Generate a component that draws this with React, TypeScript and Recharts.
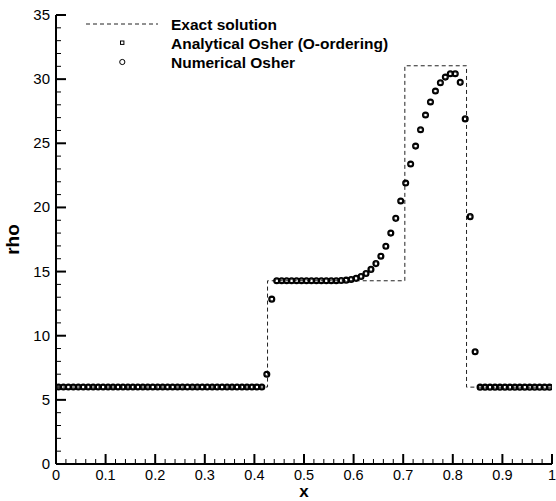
import React from 'react';
import { ComposedChart, Line, Scatter, XAxis, YAxis, Legend, Label } from 'recharts';

// cell centres
const xs = [
  0.005, 0.015, 0.025, 0.035, 0.045, 0.055, 0.065, 0.075, 0.085, 0.095,
  0.105, 0.115, 0.125, 0.135, 0.145, 0.155, 0.165, 0.175, 0.185, 0.195,
  0.205, 0.215, 0.225, 0.235, 0.245, 0.255, 0.265, 0.275, 0.285, 0.295,
  0.305, 0.315, 0.325, 0.335, 0.345, 0.355, 0.365, 0.375, 0.385, 0.395,
  0.405, 0.415, 0.425, 0.435, 0.445, 0.455, 0.465, 0.475, 0.485, 0.495,
  0.505, 0.515, 0.525, 0.535, 0.545, 0.555, 0.565, 0.575, 0.585, 0.595,
  0.605, 0.615, 0.625, 0.635, 0.645, 0.655, 0.665, 0.675, 0.685, 0.695,
  0.705, 0.715, 0.725, 0.735, 0.745, 0.755, 0.765, 0.775, 0.785, 0.795,
  0.805, 0.815, 0.825, 0.835, 0.845, 0.855, 0.865, 0.875, 0.885, 0.895,
  0.905, 0.915, 0.925, 0.935, 0.945, 0.955, 0.965, 0.975, 0.985, 0.995,
];

const rhoNumerical = [
  6.0, 6.0, 6.0, 6.0, 6.0, 6.0, 6.0, 6.0, 6.0, 6.0,
  6.0, 6.0, 6.0, 6.0, 6.0, 6.0, 6.0, 6.0, 6.0, 6.0,
  6.0, 6.0, 6.0, 6.0, 6.0, 6.0, 6.0, 6.0, 6.0, 6.0,
  6.0, 6.0, 6.0, 6.0, 6.0, 6.0, 6.0, 6.0, 6.0, 6.0,
  6.0, 6.0, 7.0, 12.85, 14.28, 14.28, 14.28, 14.28, 14.28, 14.28,
  14.28, 14.28, 14.28, 14.28, 14.28, 14.28, 14.28, 14.3, 14.33, 14.38,
  14.47, 14.62, 14.85, 15.17, 15.62, 16.2, 16.97, 18.0, 19.15, 20.5,
  21.9, 23.38, 24.78, 26.05, 27.2, 28.22, 29.07, 29.72, 30.16, 30.42,
  30.42, 29.75, 26.9, 19.28, 8.75, 5.99, 5.99, 5.99, 5.99, 5.99,
  5.99, 5.99, 5.99, 5.99, 5.99, 5.99, 5.99, 5.99, 5.99, 5.99,
];

const rhoAnalytical = [
  6.0, 6.0, 6.0, 6.0, 6.0, 6.0, 6.0, 6.0, 6.0, 6.0,
  6.0, 6.0, 6.0, 6.0, 6.0, 6.0, 6.0, 6.0, 6.0, 6.0,
  6.0, 6.0, 6.0, 6.0, 6.0, 6.0, 6.0, 6.0, 6.0, 6.0,
  6.0, 6.0, 6.0, 6.0, 6.0, 6.0, 6.0, 6.0, 6.0, 6.0,
  6.0, 6.0, 7.0, 12.85, 14.28, 14.28, 14.28, 14.28, 14.28, 14.28,
  14.28, 14.28, 14.28, 14.28, 14.28, 14.28, 14.28, 14.3, 14.33, 14.38,
  14.47, 14.62, 14.85, 15.17, 15.62, 16.2, 16.97, 18.0, 19.15, 20.5,
  21.9, 23.38, 24.78, 26.05, 27.2, 28.22, 29.07, 29.72, 30.16, 30.42,
  30.42, 29.75, 26.9, 19.28, 8.75, 5.99, 5.99, 5.99, 5.99, 5.99,
  5.99, 5.99, 5.99, 5.99, 5.99, 5.99, 5.99, 5.99, 5.99, 5.99,
];

// exact solution breakpoints (step after)
const exactX = [0, 0.4265, 0.7033, 0.8277, 1];
const exactRho = [5.99924, 14.2823, 31.0426, 5.99242, 5.99242];

const xMajor = [0, 0.1, 0.2, 0.3, 0.4, 0.5, 0.6, 0.7, 0.8, 0.9, 1];
const yMajor = [0, 5, 10, 15, 20, 25, 30, 35];
const legendLabels = ['Exact solution', 'Analytical Osher (O-ordering)', 'Numerical Osher'];

const FONT = '"Liberation Sans", Arial, Helvetica, sans-serif';

// minor ticks: 4 between x majors, 4 between y majors
const xTicks: number[] = [];
for (let i = 0; i <= 50; i++) xTicks.push(Math.round(i * 2) / 100);
const yTicks: number[] = [];
for (let i = 0; i <= 35; i++) yTicks.push(i);

const exactData = exactX.map((x, i) => ({ x, rho: exactRho[i] }));
const numericalData = xs.map((x, i) => ({ x, rho: rhoNumerical[i] }));
const analyticalData = xs.map((x, i) => ({ x, rho: rhoAnalytical[i] }));

const isMajorX = (v: number) => xMajor.some((m) => Math.abs(m - v) < 1e-6);
const isMajorY = (v: number) => yMajor.some((m) => Math.abs(m - v) < 1e-6);

const XTick = (props: any) => {
  const { x, y, payload } = props;
  const major = isMajorX(payload.value);
  return (
    <g>
      <line x1={x} x2={x} y1={y} y2={y - (major ? 10 : 5)} stroke="#000" strokeWidth={major ? 2 : 1} />
      {major && (
        <text x={x} y={y + 15.5} textAnchor="middle" fontFamily={FONT} fontSize={14.5} fill="#000">
          {String(Number(payload.value.toFixed(1)))}
        </text>
      )}
    </g>
  );
};

const YTick = (props: any) => {
  const { x, y, payload } = props;
  const major = isMajorY(payload.value);
  return (
    <g>
      <line x1={x} x2={x + (major ? 10 : 5)} y1={y} y2={y} stroke="#000" strokeWidth={major ? 2 : 1} />
      {major && (
        <text x={x - 6} y={y + 5} textAnchor="end" fontFamily={FONT} fontSize={15} fill="#000">
          {payload.value}
        </text>
      )}
    </g>
  );
};

const CircleDot = (props: any) => (
  <circle cx={props.cx} cy={props.cy} r={2.8} fill="none" stroke="#000" strokeWidth={1.5} />
);

const SquareDot = (props: any) => (
  <rect x={props.cx - 1.7} y={props.cy - 1.7} width={3.4} height={3.4} fill="none" stroke="#000" strokeWidth={1} />
);

const LegendBox = () => (
  <div style={{ position: 'relative', width: 0, height: 0 }}>
    <svg width={556} height={80} style={{ position: 'absolute', left: 0, top: 0, overflow: 'visible' }}>
      <line x1={86} x2={158} y1={24} y2={24} stroke="#222" strokeWidth={1} strokeDasharray="4 3" />
      <rect x={120.5} y={41} width={3.4} height={3.4} fill="none" stroke="#000" strokeWidth={1} />
      <circle cx={122.3} cy={62} r={2.6} fill="none" stroke="#000" strokeWidth={1} />
      {legendLabels.map((t, i) => (
        <text key={t} x={171} y={29.5 + i * 19} fontFamily={FONT} fontWeight="bold" fontSize={15.5} fill="#000">
          {t}
        </text>
      ))}
    </svg>
  </div>
);

export default function App() {
  return (
    <div style={{ position: 'absolute', left: 0, top: 0, width: 556, height: 501, background: '#fff' }}>
      <ComposedChart width={556} height={501} margin={{ top: 15, right: 4, bottom: 36, left: 55 }}>
        <XAxis
          type="number"
          dataKey="x"
          domain={[0, 1]}
          ticks={xTicks}
          interval={0}
          height={1}
          tickSize={0}
          tickMargin={0}
          tickLine={false}
          tick={XTick}
          axisLine={{ stroke: '#000', strokeWidth: 2 }}
          allowDataOverflow
        >
          <Label
            position="bottom"
            content={(p: any) => (
              <text x={p.viewBox.x + p.viewBox.width / 2} y={497} textAnchor="middle" fontFamily={FONT} fontWeight="bold" fontSize={17} fill="#000">
                x
              </text>
            )}
          />
        </XAxis>
        <YAxis
          type="number"
          dataKey="rho"
          domain={[0, 35]}
          ticks={yTicks}
          interval={0}
          width={1}
          tickSize={0}
          tickMargin={0}
          tickLine={false}
          tick={YTick}
          axisLine={{ stroke: '#000', strokeWidth: 2 }}
          allowDataOverflow
        >
          <Label
            position="left"
            content={(p: any) => {
              const cy = p.viewBox.y + p.viewBox.height / 2;
              return (
                <text x={19} y={cy} transform={`rotate(-90 19 ${cy})`} textAnchor="middle" fontFamily={FONT} fontWeight="bold" fontSize={19} fill="#000">
                  rho
                </text>
              );
            }}
          />
        </YAxis>
        <Legend layout="vertical" align="center" verticalAlign="middle" content={<LegendBox />} wrapperStyle={{ left: 0, top: 0, width: 0, height: 0 }} />
        <Line
          data={exactData}
          dataKey="rho"
          type="stepAfter"
          stroke="#222"
          strokeWidth={1}
          strokeDasharray="4 3"
          dot={false}
          activeDot={false}
          isAnimationActive={false}
        />
        <Scatter data={analyticalData} dataKey="rho" shape={<SquareDot />} isAnimationActive={false} />
        <Scatter data={numericalData} dataKey="rho" shape={<CircleDot />} isAnimationActive={false} />
      </ComposedChart>
    </div>
  );
}
